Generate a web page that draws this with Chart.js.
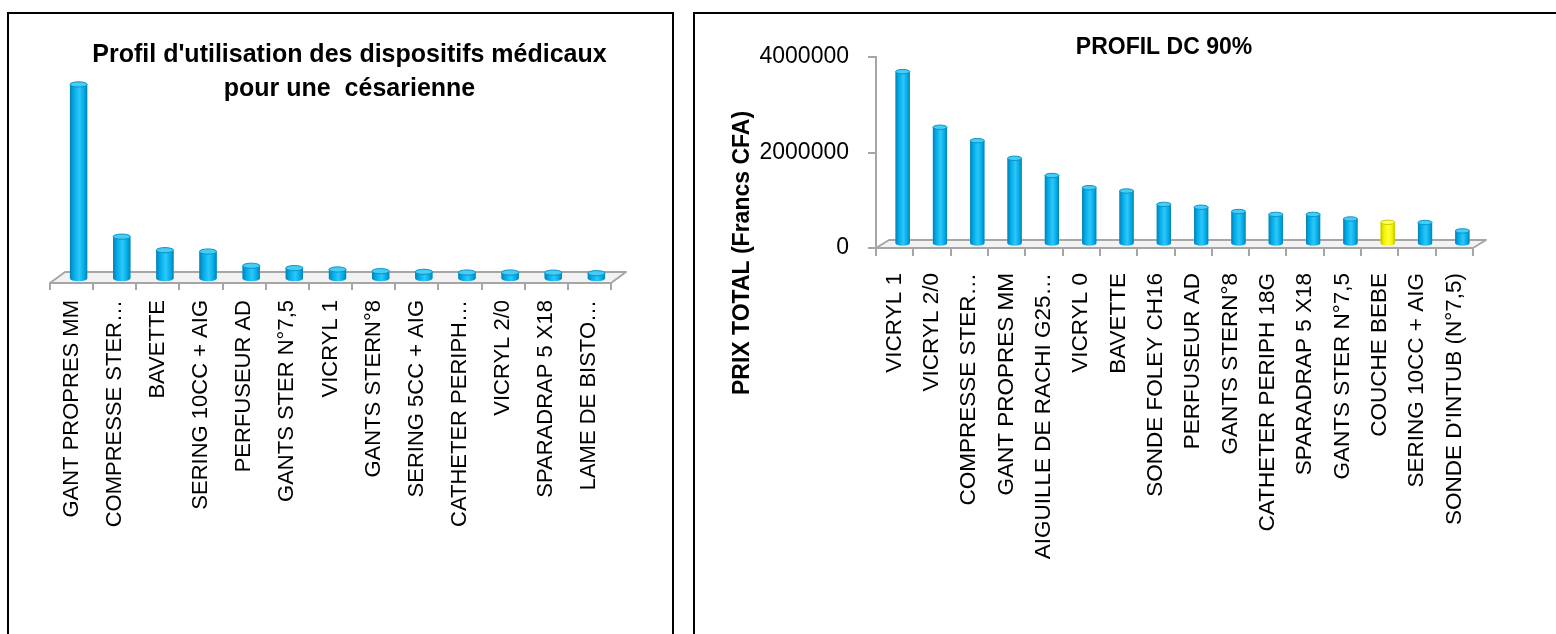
<!DOCTYPE html>
<html>
<head>
<meta charset="utf-8">
<script src="https://cdn.jsdelivr.net/npm/chart.js@4.4.1/dist/chart.umd.min.js"></script>
<style>
  html, body { margin: 0; padding: 0; background: #fff; width: 1556px; height: 634px; overflow: hidden; }
  .frame { position: absolute; border: 2px solid #000; box-sizing: border-box; }
  #frameUsage { left: 7px; top: 12px; width: 667px; height: 700px; }
  #frameCost { left: 693px; top: 12px; width: 900px; height: 700px; }
  canvas { position: absolute; top: 0; }
  #usageChart { left: 0; }
  #costChart { left: 680px; }
</style>
</head>
<body>
<div class="frame" id="frameUsage"></div>
<div class="frame" id="frameCost"></div>
<canvas id="usageChart" width="680" height="634"></canvas>
<canvas id="costChart" width="876" height="634"></canvas>
<script>
// Usage profile of medical devices for one caesarean section
const usageItems = [
  'GANT PROPRES MM', 'COMPRESSE STER…', 'BAVETTE', 'SERING 10CC + AIG', 'PERFUSEUR AD',
  'GANTS STER N°7,5', 'VICRYL 1', 'GANTS STERN°8', 'SERING 5CC + AIG', 'CATHETER PERIPH…',
  'VICRYL 2/0', 'SPARADRAP 5 X18', 'LAME DE BISTO…'
];
const usageValues = [2870, 620, 420, 400, 190, 155, 135, 110, 100, 90, 90, 88, 80];

// Total cost of the devices covering 90% of spending (Francs CFA)
const costItems = [
  'VICRYL 1', 'VICRYL 2/0', 'COMPRESSE STER…', 'GANT PROPRES MM', 'AIGUILLE DE RACHI G25…',
  'VICRYL 0', 'BAVETTE', 'SONDE FOLEY CH16', 'PERFUSEUR AD', 'GANTS STERN°8',
  'CATHETER PERIPH 18G', 'SPARADRAP 5 X18', 'GANTS STER N°7,5', 'COUCHE BEBE',
  'SERING 10CC + AIG', "SONDE D'INTUB (N°7,5)"
];
const costValues = [3620000, 2455000, 2175000, 1805000, 1445000, 1190000, 1120000, 840000,
  780000, 690000, 630000, 630000, 535000, 465000, 460000, 285000];
const costTicks = [0, 2000000, 4000000];
const highlightedItem = 'COUCHE BEBE';

const BLUE = '#00b0f0';
const YELLOW = '#ffff00';
const shades = {
  [BLUE]:   { edge: '#0a7fae', mid: '#00abe8', light: '#2ec7f8', cap: '#45cdf6', rim: '#0994c8' },
  [YELLOW]: { edge: '#bdbd00', mid: '#f2f200', light: '#ffff3a', cap: '#ffff60', rim: '#c8c800' }
};

const LABEL_FONT = "'Liberation Sans Narrow', 'Liberation Sans', Arial, sans-serif";
const TEXT_FONT = "'Liberation Sans', Arial, sans-serif";

// Floor slab and cylinder shading for a pseudo-3D column look
const columns3d = {
  id: 'columns3d',
  beforeDatasetsDraw(chart, _args, o) {
    const { ctx, chartArea: a } = chart;
    const y = a.bottom;
    ctx.save();
    ctx.beginPath();
    ctx.moveTo(a.left, y);
    ctx.lineTo(a.left + o.depthX, y + o.depthY);
    ctx.lineTo(a.right + o.depthX, y + o.depthY);
    ctx.lineTo(a.right, y);
    ctx.closePath();
    ctx.fillStyle = '#f2f2f2';
    ctx.fill();
    ctx.lineJoin = 'round';
    ctx.lineWidth = 2;
    ctx.strokeStyle = '#a6a6a6';
    ctx.stroke();
    ctx.restore();
    ctx.save();
    ctx.translate(o.shiftX, o.shiftY);
  },
  afterDatasetsDraw(chart, _args, o) {
    const ctx = chart.ctx;
    const meta = chart.getDatasetMeta(0);
    meta.data.forEach((bar) => {
      const { x, y, base, width } = bar.getProps(['x', 'y', 'base', 'width'], true);
      const s = shades[bar.options.backgroundColor] || shades[BLUE];
      const rx = width / 2, ry = o.capRy;
      const g = ctx.createLinearGradient(x - rx, 0, x + rx, 0);
      g.addColorStop(0, s.edge);
      g.addColorStop(0.22, s.mid);
      g.addColorStop(0.55, s.light);
      g.addColorStop(0.82, s.mid);
      g.addColorStop(1, s.edge);
      ctx.beginPath();
      ctx.moveTo(x - rx, y);
      ctx.lineTo(x - rx, base);
      ctx.ellipse(x, base, rx, ry, 0, Math.PI, 0, true);
      ctx.lineTo(x + rx, y);
      ctx.closePath();
      ctx.fillStyle = g;
      ctx.fill();
      ctx.beginPath();
      ctx.ellipse(x, y, rx, ry, 0, 0, Math.PI * 2);
      ctx.fillStyle = s.cap;
      ctx.fill();
      ctx.lineWidth = 1;
      ctx.strokeStyle = s.rim;
      ctx.stroke();
    });
    ctx.restore();
  }
};

// Titles drawn as canvas text at fixed spots
const captions = {
  id: 'captions',
  afterDraw(chart, _args, o) {
    const ctx = chart.ctx;
    (o.items || []).forEach((t) => {
      ctx.save();
      ctx.font = t.font;
      ctx.fillStyle = '#000';
      ctx.textAlign = 'center';
      ctx.textBaseline = t.baseline || 'alphabetic';
      ctx.translate(t.x, t.y);
      if (t.rotate) ctx.rotate(t.rotate);
      ctx.fillText(t.text, 0, 0);
      ctx.restore();
    });
  }
};

Chart.defaults.animation = false;

new Chart(document.getElementById('usageChart'), {
  type: 'bar',
  data: {
    labels: usageItems,
    datasets: [{
      data: usageValues,
      backgroundColor: usageItems.map(() => BLUE),
      borderWidth: 0,
      barPercentage: 0.4,
      categoryPercentage: 1,
      clip: false
    }]
  },
  options: {
    responsive: false,
    layout: { padding: { left: 50, right: 69, top: 80, bottom: 0 } },
    plugins: {
      legend: { display: false },
      tooltip: { enabled: false },
      columns3d: { depthX: 15, depthY: -11, shiftX: 7, shiftY: -4.4, capRy: 2.6 },
      captions: {
        items: [
          { text: "Profil d'utilisation des dispositifs médicaux", x: 349.5, y: 61.5, font: "bold 25px " + TEXT_FONT },
          { text: 'pour une  césarienne', x: 349.5, y: 96, font: "bold 25px " + TEXT_FONT }
        ]
      }
    },
    scales: {
      x: {
        offset: true,
        grid: { display: true, offset: true, drawOnChartArea: false, drawTicks: true, tickLength: 7, color: '#a6a6a6', lineWidth: 2 },
        border: { display: false },
        ticks: { autoSkip: false, minRotation: 90, maxRotation: 90, padding: 10, color: '#000', font: { family: LABEL_FONT, size: 22 } },
        afterFit(scale) { scale.height = 351; }
      },
      y: { display: false, min: 0, max: 3000 }
    }
  },
  plugins: [columns3d, captions]
});

new Chart(document.getElementById('costChart'), {
  type: 'bar',
  data: {
    labels: costItems,
    datasets: [{
      data: costValues,
      backgroundColor: costItems.map((c) => (c === highlightedItem ? YELLOW : BLUE)),
      borderWidth: 0,
      barPercentage: 0.38,
      categoryPercentage: 1,
      clip: false
    }]
  },
  options: {
    responsive: false,
    layout: { padding: { left: 0, right: 83, top: 57, bottom: 0 } },
    plugins: {
      legend: { display: false },
      tooltip: { enabled: false },
      columns3d: { depthX: 13, depthY: -8, shiftX: 8, shiftY: -3.5, capRy: 2.2 },
      captions: {
        items: [
          { text: 'PROFIL DC 90%', x: 484, y: 54.3, font: "bold 23px " + TEXT_FONT },
          { text: 'PRIX TOTAL (Francs CFA)', x: 63, y: 253, rotate: -Math.PI / 2, baseline: 'middle', font: "bold 23px " + TEXT_FONT }
        ]
      }
    },
    scales: {
      x: {
        offset: true,
        grid: { display: true, offset: true, drawOnChartArea: false, drawTicks: true, tickLength: 8, color: '#a6a6a6', lineWidth: 2 },
        border: { display: false },
        ticks: { autoSkip: false, minRotation: 90, maxRotation: 90, padding: 17, color: '#000', font: { family: LABEL_FONT, size: 22.5 } },
        afterFit(scale) { scale.height = 386; }
      },
      y: {
        min: 0,
        max: 4000000,
        afterBuildTicks(scale) { scale.ticks = costTicks.map((v) => ({ value: v })); },
        grid: { drawOnChartArea: false, drawTicks: true, tickLength: 8, color: '#a6a6a6', lineWidth: 2 },
        border: { display: true, color: '#a6a6a6', width: 2 },
        ticks: { padding: 19, color: '#000', font: { family: TEXT_FONT, size: 23 }, callback: (v) => String(v) },
        afterFit(scale) { scale.width = 196; }
      }
    }
  },
  plugins: [columns3d, captions]
});
</script>
</body>
</html>
